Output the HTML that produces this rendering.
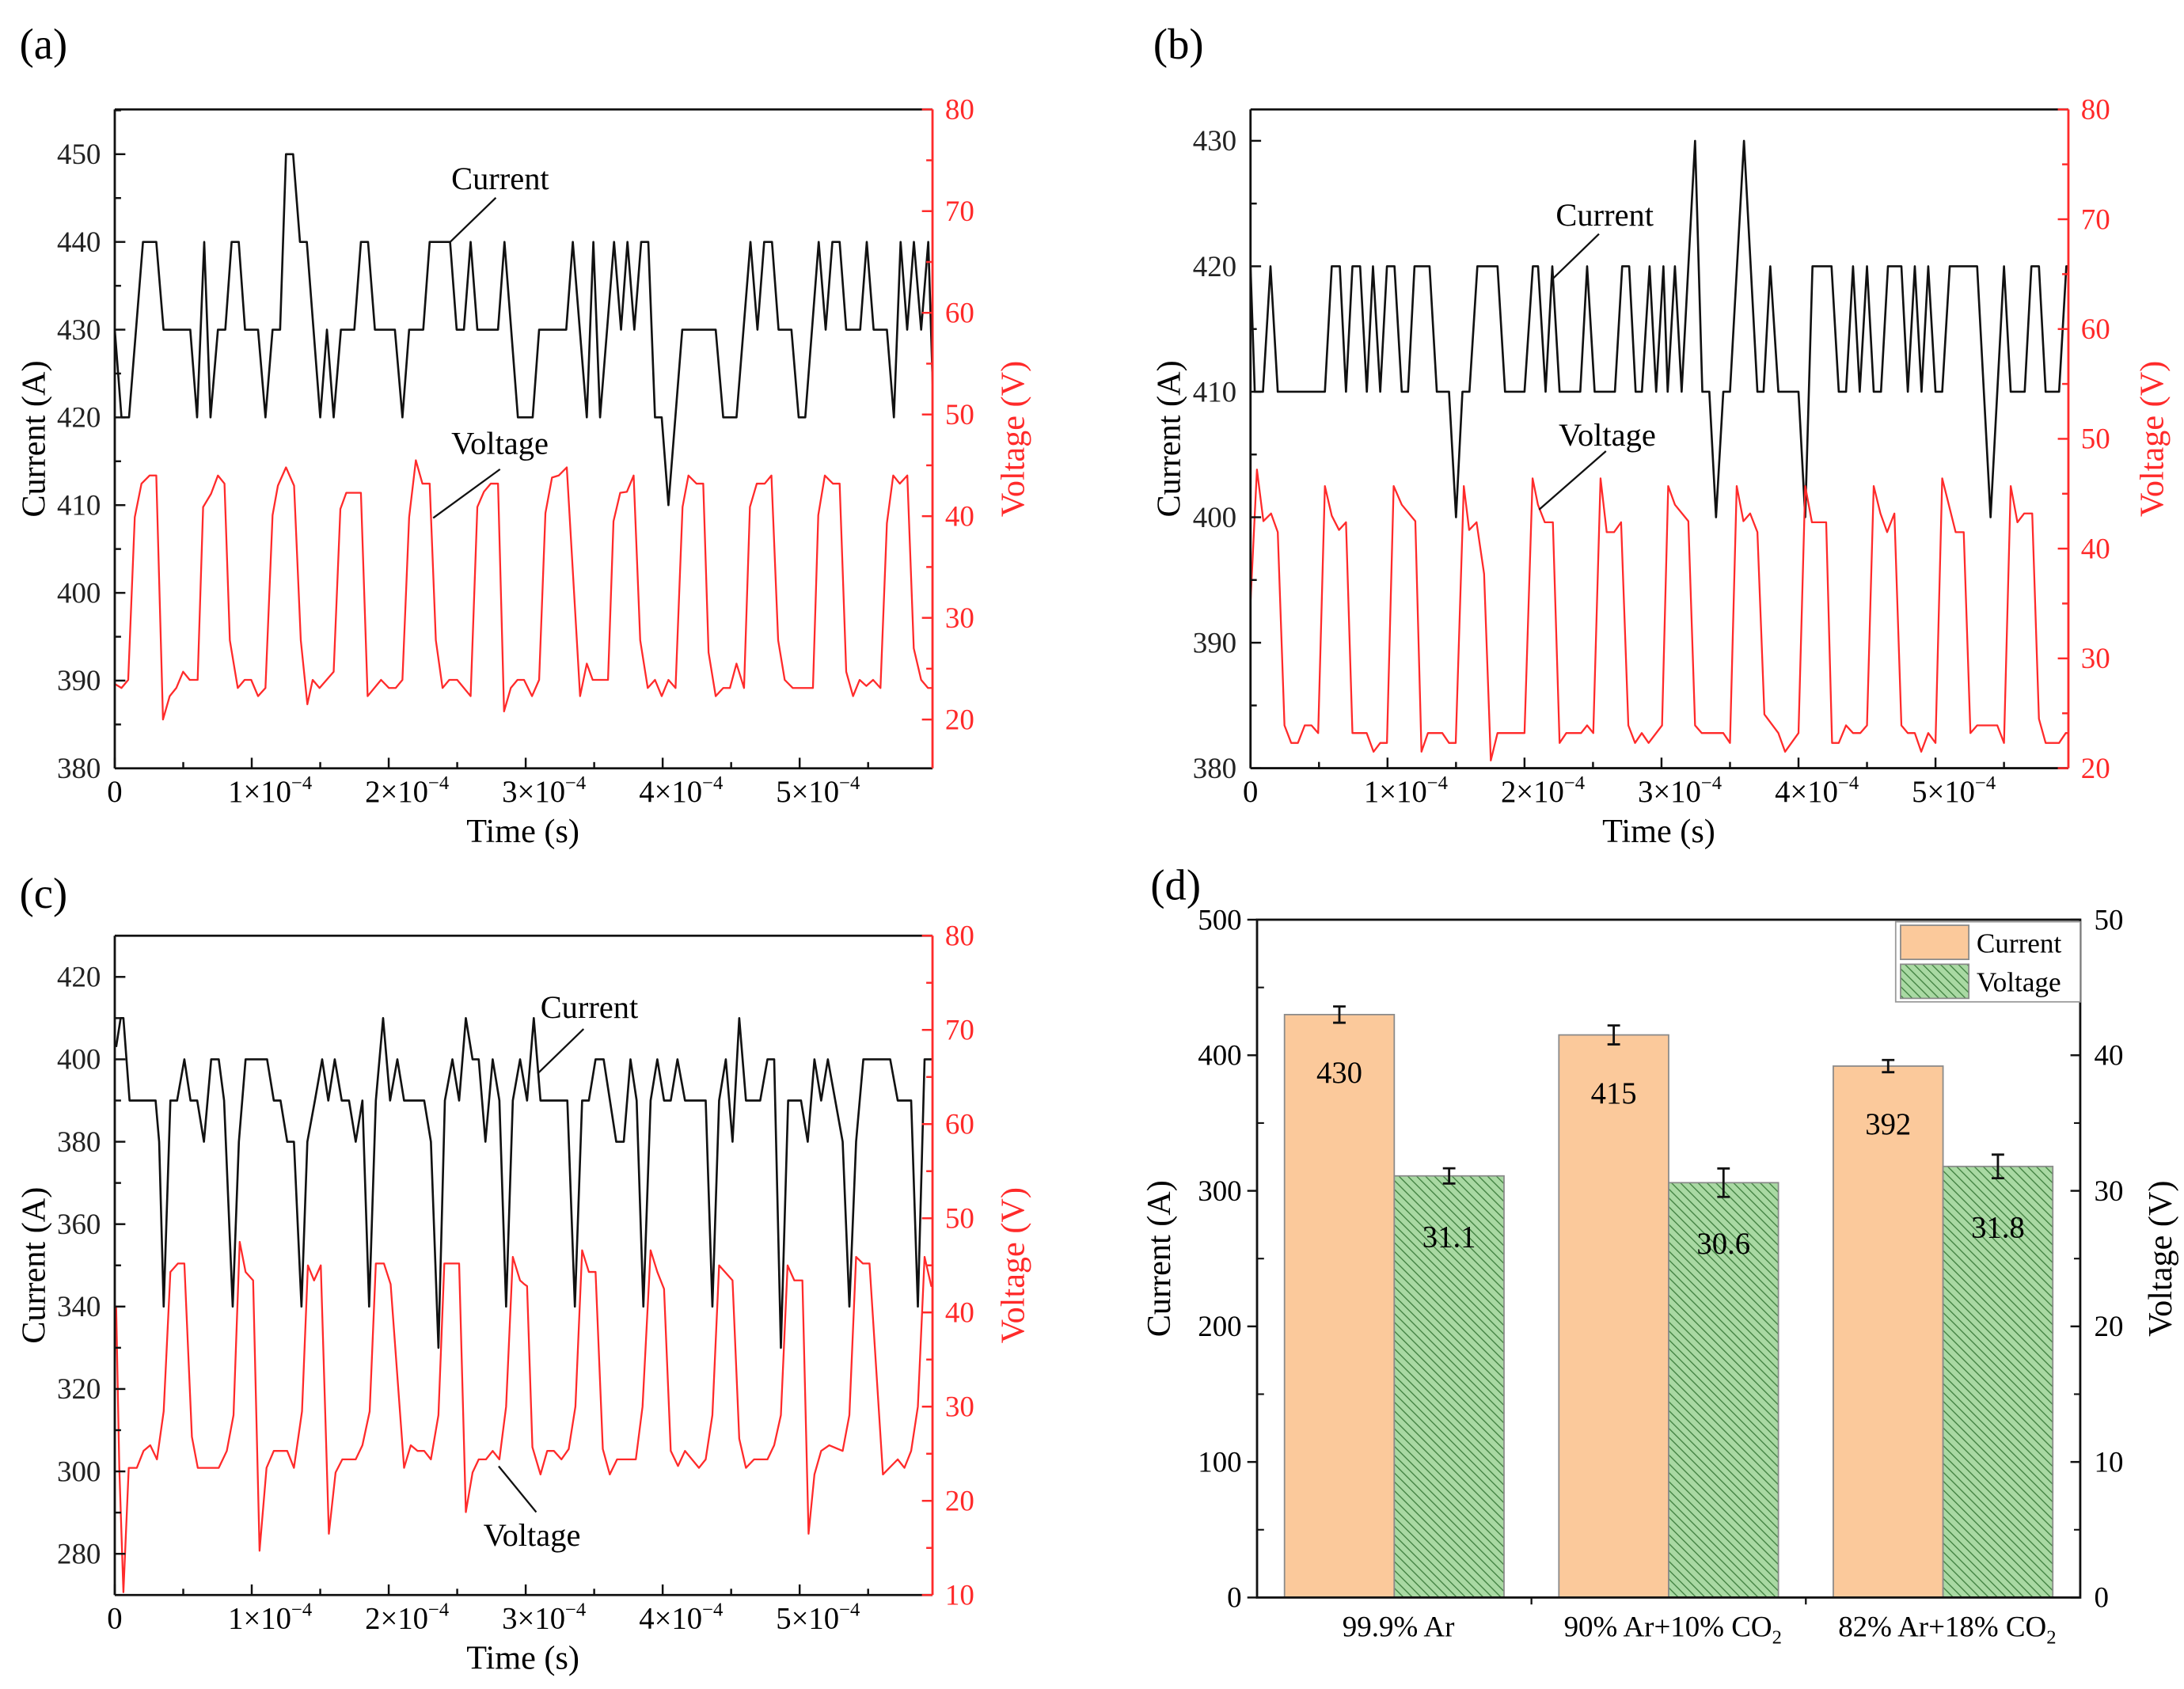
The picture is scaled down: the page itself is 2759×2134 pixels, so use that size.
<!DOCTYPE html>
<html><head><meta charset="utf-8"><title>Current and voltage waveforms</title>
<style>
html,body{margin:0;padding:0;background:#fff;}
svg{display:block;}
svg text{font-family:"Liberation Serif","DejaVu Serif",serif;}
</style></head>
<body>
<svg id="fig" xmlns="http://www.w3.org/2000/svg" width="2759" height="2134" viewBox="0 0 1568 1213" preserveAspectRatio="none" font-family="'Liberation Serif', 'DejaVu Serif', serif">
<defs>
<pattern id="hatch" patternUnits="userSpaceOnUse" width="4.5" height="4.5" patternTransform="rotate(-45)">
<rect width="4.5" height="4.5" fill="#a9d9a3"/>
<line x1="0" y1="0" x2="0" y2="4.5" stroke="#3f7f3f" stroke-width="1.5"/>
</pattern>
<clipPath id="clipA"><rect x="82.4" y="78.6" width="587.1" height="473.2"/></clipPath>
<clipPath id="clipB"><rect x="897.8" y="78.6" width="587.2" height="473.1"/></clipPath>
<clipPath id="clipC"><rect x="82.4" y="672" width="587.1" height="473.5"/></clipPath>
</defs>
</svg>
<script>
// ---------- Panel (a) data (time in microseconds) ----------
const aCurT=[0,4.9,10.4,20.6,30.3,35.6,55.1,60.1,65.3,69.9,75.3,80.7,85.3,90.5,95.1,104.6,110.0,115.2,120.7,125.0,130.2,135.2,140.2,150.0,154.9,159.8,165.1,174.9,179.7,184.9,189.9,204.5,210.0,214.9,225.2,229.9,244.8,249.6,254.9,259.8,264.7,279.8,284.5,294.3,305.1,309.8,329.6,334.4,344.6,349.4,354.3,364.5,369.6,374.3,379.3,384.3,389.5,394.4,399.3,404.2,414.3,438.7,444.2,453.9,464.1,469.2,474.1,479.8,484.6,494.0,499.3,504.1,513.9,519.0,523.9,529.2,534.0,544.2,549.0,554.0,563.7,568.8,573.7,578.5,583.4,588.7,593.9,597.9];
const aCurI=[430,420,420,440,440,430,430,420,440,420,430,430,440,440,430,430,420,430,430,450,450,440,440,420,430,420,430,430,440,440,430,430,420,430,430,440,440,430,430,440,430,430,440,420,420,430,430,440,420,440,420,440,430,440,430,440,440,420,420,410,430,430,420,420,440,430,440,440,430,430,420,420,440,430,440,440,430,430,440,430,430,420,440,430,440,430,440,420];
const aVolT=[0,4.9,9.8,14.6,19.5,25.4,30.3,35.2,40.1,44.9,49.9,54.7,60.5,64.5,70.3,75.3,80.1,84.0,89.8,94.8,99.6,104.6,110.0,115.2,119.1,125.0,130.9,135.8,140.6,144.5,149.5,159.8,164.7,169.0,179.7,184.6,194.4,200.2,205.1,210.0,214.9,219.8,224.6,229.9,234.4,239.3,244.2,250.0,259.8,264.7,269.5,274.5,279.8,284.2,289.1,294.0,298.8,304.6,309.8,314.4,319.2,324.1,330.0,339.7,344.6,348.9,360.1,364.1,369.0,373.9,378.8,383.6,389.1,394.4,399.3,404.2,409.4,414.5,418.8,424.7,429.6,433.5,438.7,444.2,449.1,453.9,459.4,463.7,468.7,474.5,479.4,484.3,489.1,495.0,509.7,513.6,518.4,524.3,529.2,534.0,539.0,543.8,548.7,553.6,559.0,563.7,568.3,573.1,578.6,583.3,588.7,593.7,597.9];
const aVolU=[23.5,23.1,23.9,39.9,43.2,44.0,44.0,20.0,22.3,23.1,24.7,23.9,23.9,40.9,42.2,44.0,43.2,27.8,23.1,23.9,23.9,22.3,23.1,40.1,43.0,44.8,43.0,27.8,21.5,23.9,23.1,24.7,40.7,42.3,42.3,22.3,23.9,23.1,23.1,23.9,39.9,45.5,43.2,43.2,27.8,23.1,23.9,23.9,22.3,40.9,42.4,43.2,43.2,20.8,23.1,23.9,23.9,22.3,23.9,40.3,43.8,44.0,44.8,22.3,25.5,23.9,23.9,39.5,42.3,42.4,44.0,27.8,23.1,23.9,22.3,23.9,23.1,40.9,44.0,43.2,43.2,26.6,22.3,23.1,23.1,25.5,23.1,40.9,43.2,43.2,44.0,27.8,23.9,23.1,23.1,40.1,44.0,43.2,43.2,24.7,22.3,23.9,23.3,23.9,23.1,39.3,44.0,43.2,44.0,27.0,23.9,23.1,23.1];
// ---------- Panel (b) data ----------
const bCurT=[0,3.1,9.1,14.6,19.9,54.3,59.3,65.2,69.7,74.4,80.0,84.9,89.4,94.7,99.6,105.1,110.4,115.0,119.7,130.7,136.0,144.9,150.0,154.7,159.8,165.6,180.3,185.8,200.0,206.1,209.9,215.4,220.3,225.6,240.7,245.7,251.2,266.0,271.3,276.4,281.1,285.7,291.3,296.1,301.4,304.5,309.8,314.7,324.5,329.8,334.9,339.8,345.1,350,360.2,370,374.5,379.4,385.3,400,404.9,410.2,424.1,429.4,434.7,439.8,444.7,450,454.9,460.2,465.3,475.1,479.8,484.9,489.8,494.7,500,504.9,510.4,530.4,540.2,550,554.9,565.1,570,575.5,580.4,590.2,595.5,599];
const bCurI=[420,410,410,420,410,410,420,420,410,420,420,410,420,410,420,420,410,410,420,420,410,410,400,410,410,420,420,410,410,420,420,410,420,410,410,420,410,410,420,420,410,410,420,410,420,410,420,410,430,410,410,400,410,410,430,410,410,420,410,410,400,420,420,410,410,420,410,420,410,410,420,420,410,420,410,420,410,410,420,420,400,420,410,410,420,420,410,410,420,420];
const bVolT=[0,4.7,9.4,15,19.9,24.8,29.7,34.6,39.6,44.5,49.4,54.3,59.3,64.6,69.7,74.4,84.8,89.8,94.7,99.6,104.5,110.4,120.3,124.8,129.5,140,144.9,149.8,155.7,159.6,165,170.5,175.4,180.3,200,205.9,209.8,214.8,220.7,225.6,230.5,241.3,245.7,250.2,255.5,260,265.4,270.5,275.8,280.7,285.6,290.6,300.4,304.9,309.8,319.6,324.5,329.4,345.1,350,354.9,359.8,364.7,370,375.1,385.3,390.2,400,404.9,409.8,420.2,424.5,429.4,434.7,439.8,445.1,450,454.9,459.8,464.7,470,475.1,479.8,484.9,489.6,494.7,500,504.9,514.7,520.6,525.5,530.4,545.1,550,554.9,559.8,564.7,570.6,575.5,580.4,590.2,595.1,599];
const bVolU=[35.1,47.2,42.5,43.2,41.5,23.9,22.3,22.3,23.9,23.9,23.2,45.7,43.0,41.7,42.4,23.2,23.2,21.5,22.3,22.3,45.7,44.0,42.5,21.5,23.2,23.2,22.3,22.3,45.7,41.7,42.4,37.7,20.7,23.2,23.2,46.4,44.0,42.4,42.4,22.3,23.2,23.2,23.9,23.2,46.4,41.5,41.5,42.4,23.9,22.3,23.2,22.3,23.9,45.7,44.0,42.5,23.9,23.2,23.2,22.3,45.7,42.5,43.2,41.5,24.9,23.2,21.5,23.2,45.7,42.4,42.4,22.3,22.3,23.9,23.2,23.2,23.9,45.7,43.2,41.5,43.2,23.9,23.2,23.2,21.5,23.2,22.3,46.4,41.5,41.5,23.2,23.9,23.9,22.3,45.7,42.4,43.2,43.2,24.5,22.3,22.3,23.2,23.2];
// ---------- Panel (c) data ----------
const cCurT=[1.0,4.3,6.3,10.8,29.8,32.4,35.7,40.6,45.5,50.8,55.3,60.2,65.1,70.4,75.9,79.8,86.1,90.6,95.5,111.2,116.1,121.0,125.9,130.8,136.3,140.6,146.1,151.4,155.9,160.6,165.7,171.0,175.9,180.8,185.7,190.6,195.9,201.0,206.3,211.2,225.9,230.8,236.3,241.0,246.5,251.4,256.3,261.2,265.7,270.6,275.9,280.8,285.7,290.6,295.9,301.0,305.9,310.8,330.4,335.9,341.2,346.1,351.0,356.9,366.1,371.6,376.5,381.0,385.9,391.2,396.1,401.0,405.9,410.8,416.3,431.4,436.3,441.2,446.1,451.0,455.9,460.8,471.2,476.5,481.4,486.3,491.6,501.0,505.9,510.8,515.7,520.6,531.4,536.3,541.2,546.5,566.1,571.6,581.4,586.3,591.2,600];
const cCurI=[403,410,410,390,390,380,340,390,390,400,390,390,380,400,400,390,340,380,400,400,390,390,380,380,340,380,390,400,390,400,390,390,380,390,340,390,410,390,400,390,390,380,330,390,400,390,410,400,400,380,400,390,340,390,400,390,410,390,390,340,390,390,400,400,380,380,400,390,340,390,400,390,390,400,390,390,340,390,400,380,410,390,390,400,400,330,390,390,380,400,390,400,380,340,380,400,400,390,390,340,400,400];
const cVolT=[1.0,3.3,6.3,10.2,16.1,21.0,25.9,30.8,35.7,40.6,46.1,50.8,56.3,60.6,75.9,81.8,86.7,91.2,95.5,101.0,105.7,110.8,116.1,125.9,130.8,136.7,141.0,145.5,150.4,156.3,161.2,166.1,175.9,180.8,186.1,190.6,196.5,201.4,211.2,216.1,221.0,225.9,230.8,236.3,240.6,251.4,256.3,261.2,265.7,271.0,275.9,280.8,285.7,290.6,295.9,299,301,304.9,310.8,315.7,320.6,326.1,331.4,336.3,341.2,346.1,351,356.3,361.4,366.7,380.4,385.3,391.2,396.1,401,405.9,411.2,416.3,426.5,431.4,436.3,441.2,451,455.9,460.8,466.7,476.5,481.4,486.3,491.2,496.1,502,506.5,510.8,515.7,521.6,531.4,536.3,541.2,546.1,551,560.8,571.6,576.5,581.4,586.3,591.2,596.1,600];
const cVolU=[40.7,23.5,10.3,23.5,23.5,25.3,25.9,24.4,29.5,44.3,45.2,45.2,26.8,23.5,23.5,25.3,29.1,47.5,44.3,43.4,14.7,23.5,25.3,25.3,23.5,29.5,45.0,43.4,45.0,16.5,23.0,24.4,24.4,25.9,29.5,45.2,45.2,43.0,23.5,25.9,25.3,25.3,24.4,29.1,45.2,45.2,18.8,23.0,24.4,24.4,25.3,24.4,30.0,45.9,43.4,43.0,42.8,25.7,22.8,25.3,25.3,24.4,25.5,30.0,46.6,44.3,44.3,25.5,22.8,24.4,24.4,30.0,46.6,44.3,42.5,25.3,23.7,25.3,23.5,24.4,29.1,45.0,43.4,26.6,23.5,24.4,24.4,25.9,29.1,45.0,43.4,43.4,16.5,22.8,25.3,25.9,25.3,29.1,45.9,45.2,45.2,22.8,24.4,23.5,25.3,30.0,45.9,42.8,43.2];
// ---------- Panel (d) data ----------
const dCategories=['99.9% Ar','90% Ar+10% CO2','82% Ar+18% CO2'];
const dCurrent=[430,415,392];
const dCurrentErr=[6,7,4.5];
const dVoltage=[31.1,30.6,31.8];
const dVoltageErr=[0.56,1.05,0.87];
const dCurrentTicks=[0,100,200,300,400,500];
const dVoltageTicks=[0,10,20,30,40,50];

const svg=document.getElementById('fig');
const NS='http://www.w3.org/2000/svg';
const FONT="'Liberation Serif', 'DejaVu Serif', serif";
function mk(tag,attrs,parent){const e=document.createElementNS(NS,tag);for(const k in attrs)e.setAttribute(k,attrs[k]);if(tag==='text')e.setAttribute('font-family',FONT);(parent||svg).appendChild(e);return e;}
const RED='#ff2a2a';

function linePanel(p){
  const g=mk('g',{});
  
  
  const sx=t=>p.x0+(t-0)/p.tMax*(p.x1-p.x0);
  const sc=v=>p.yBot-(v-p.cMin)/(p.cMax-p.cMin)*(p.yBot-p.yTop);
  const sv=v=>p.yBot-(v-p.vMin)/(p.vMax-p.vMin)*(p.yBot-p.yTop);
  const tg=mk('g',{'clip-path':'url(#'+p.clip+')'},g);
  let d='';p.curT.forEach((t,i)=>{d+=(i?'L':'M')+sx(t).toFixed(2)+' '+sc(p.curI[i]).toFixed(2);});
  const cl=mk('path',{d:d,fill:'none',stroke:'#111','stroke-width':1.5,'stroke-linejoin':'round'},tg);
  
  
  d='';p.volT.forEach((t,i)=>{d+=(i?'L':'M')+sx(t).toFixed(2)+' '+sv(p.volU[i]).toFixed(2);});
  const vl=mk('path',{d:d,fill:'none',stroke:RED,'stroke-width':1.3,'stroke-linejoin':'round'},tg);
  
  
  mk('line',{x1:p.x0,y1:p.yTop,x2:p.x1,y2:p.yTop,stroke:'#111','stroke-width':1.6},g);
  mk('line',{x1:p.x0,y1:p.yBot,x2:p.x1,y2:p.yBot,stroke:'#111','stroke-width':1.6},g);
  const la=mk('line',{x1:p.x0,y1:p.yTop,x2:p.x0,y2:p.yBot,stroke:'#111','stroke-width':1.6},g);
  
  
  const ra=mk('line',{x1:p.x1,y1:p.yTop,x2:p.x1,y2:p.yBot,stroke:RED,'stroke-width':1.6},g);
  
  
  for(let t=0;t<=p.tMax;t+=50){
    const major=(t%100===0);const x=sx(t);
    mk('line',{x1:x,y1:p.yBot,x2:x,y2:p.yBot-(major?7.6:4.5),stroke:'#111','stroke-width':1.4},g);
    if(major){
      let lab;
      if(t===0){lab=mk('text',{x:x,y:p.yBot+24,'font-size':22,'text-anchor':'middle'},g);lab.textContent='0';}
      else{lab=mk('text',{x:x-17,y:p.yBot+24,'font-size':22},g);lab.textContent=(t/100)+'×10';
        const s=mk('tspan',{dy:-9,'font-size':14},lab);s.textContent='−4';}
      
      
    }
  }
  const xt=mk('text',{x:(p.x0+p.x1)/2-0.5,y:p.yBot+53,'font-size':24,'text-anchor':'middle'},g);
  xt.textContent='Time (s)';
  
  
  for(let v=p.cMinorStart;v<=p.cMax;v+=p.cMinor){
    const major=((v-p.cMajorStart)%p.cMajor===0)&&v>=p.cMajorStart;const y=sc(v);
    mk('line',{x1:p.x0,y1:y,x2:p.x0+(major?7.6:4.5),y2:y,stroke:'#111','stroke-width':1.4},g);
    if(major){const l=mk('text',{x:p.x0-10,y:y+7,'font-size':21,'text-anchor':'end',fill:'#222'},g);l.textContent=v;
      
      }
  }
  for(let v=p.vMinorStart;v<=p.vMax;v+=5){
    const major=(v%10===0);const y=sv(v);
    mk('line',{x1:p.x1,y1:y,x2:p.x1-(major?7.6:4.5),y2:y,stroke:RED,'stroke-width':1.4},g);
    if(major){const l=mk('text',{x:p.x1+9,y:y+7,'font-size':21,fill:RED},g);l.textContent=v;
      
      }
  }
  const cy=(p.yTop+p.yBot)/2;
  const yt=mk('text',{x:0,y:0,'font-size':24,'text-anchor':'middle',transform:'translate('+p.ctX+','+cy+') rotate(-90)'},g);
  yt.textContent='Current (A)';
  
  
  const vt=mk('text',{x:0,y:0,'font-size':24,'text-anchor':'middle',fill:RED,transform:'translate('+p.vtX+','+cy+') rotate(-90)'},g);
  vt.textContent='Voltage (V)';
  
  
  const ac=mk('text',{x:p.annC[0],y:p.annC[1],'font-size':23},g);ac.textContent='Current';
  
  
  mk('line',{x1:p.annC[2],y1:p.annC[3],x2:p.annC[4],y2:p.annC[5],stroke:'#111','stroke-width':1.3},g);
  const av=mk('text',{x:p.annV[0],y:p.annV[1],'font-size':23},g);av.textContent='Voltage';
  
  
  mk('line',{x1:p.annV[2],y1:p.annV[3],x2:p.annV[4],y2:p.annV[5],stroke:'#111','stroke-width':1.3},g);
  const pl=mk('text',{x:p.lab[0],y:p.lab[1],'font-size':31},g);pl.textContent=p.label;
  
  
}

linePanel({name:'panel-a',clip:'clipA',x0:82.4,x1:669.5,yTop:78.6,yBot:551.8,tMax:597,
  cMin:380,cMax:455.1,cMajor:10,cMajorStart:380,cMinor:5,cMinorStart:380,vMin:15.2,vMax:80,vMinorStart:20,
  curT:aCurT,curI:aCurI,volT:aVolT,volU:aVolU,ctX:32,vtX:735,
  annC:[324,136,356,142,323,174],annV:[324,326,359,337,311,372],lab:[14,42],label:'(a)'});
linePanel({name:'panel-b',clip:'clipB',x0:897.8,x1:1485,yTop:78.6,yBot:551.7,tMax:597,
  cMin:380,cMax:432.5,cMajor:10,cMajorStart:380,cMinor:5,cMinorStart:380,vMin:20,vMax:80,vMinorStart:20,
  curT:bCurT,curI:bCurI,volT:bVolT,volU:bVolU,ctX:847,vtX:1553,
  annC:[1117,162,1148,168,1114,201],annV:[1119,320,1153,324,1105,366],lab:[828,42],label:'(b)'});
linePanel({name:'panel-c',clip:'clipC',x0:82.4,x1:669.5,yTop:672,yBot:1145.5,tMax:597,
  cMin:270,cMax:430,cMajor:20,cMajorStart:280,cMinor:10,cMinorStart:270,vMin:10,vMax:80,vMinorStart:10,
  curT:cCurT,curI:cCurI,volT:cVolT,volU:cVolU,ctX:32,vtX:735,
  annC:[388,731,419,739,386,771],annV:[347,1110,358,1053,385,1086],lab:[14,652],label:'(c)'});

// ---------- Panel (d) bar chart ----------
(function(){
  const x0=902.5,x1=1493.5,yT=660.5,yB=1147.3,cMax=500,vMax=50;
  const g=mk('g',{});
  
  
  const band=(x1-x0)/dCategories.length;
  const bw=78.8;
  const yc=v=>yB-v/cMax*(yB-yT);
  const yv=v=>yB-v/vMax*(yB-yT);
  dCategories.forEach((c,i)=>{
    const cx=x0+band*(i+0.5);
    const cb=mk('rect',{x:cx-bw,y:yc(dCurrent[i]),width:bw,height:yB-yc(dCurrent[i]),fill:'#fbc99b',stroke:'#8a8a8a','stroke-width':1},g);
    
    
    const vb=mk('rect',{x:cx,y:yv(dVoltage[i]),width:bw,height:yB-yv(dVoltage[i]),fill:'url(#hatch)',stroke:'#8a8a8a','stroke-width':1},g);
    
    
    [[cx-bw/2,yc(dCurrent[i]+dCurrentErr[i]),yc(dCurrent[i]-dCurrentErr[i])],[cx+bw/2,yv(dVoltage[i]+dVoltageErr[i]),yv(dVoltage[i]-dVoltageErr[i])]].forEach(e=>{
      const eb=mk('path',{d:'M'+e[0]+' '+e[1]+'V'+e[2]+'M'+(e[0]-4.5)+' '+e[1]+'H'+(e[0]+4.5)+'M'+(e[0]-4.5)+' '+e[2]+'H'+(e[0]+4.5),stroke:'#111','stroke-width':1.6,fill:'none'},g);
      
      
    });
    const lc=mk('text',{x:cx-bw/2,y:yc(dCurrent[i])+49,'font-size':22,'text-anchor':'middle'},g);lc.textContent=dCurrent[i];
    
    
    const lv=mk('text',{x:cx+bw/2,y:yv(dVoltage[i])+51,'font-size':22,'text-anchor':'middle'},g);lv.textContent=dVoltage[i].toFixed(1);
    
    
    const xl=mk('text',{x:cx+3,y:yB+28,'font-size':21,'text-anchor':'middle'},g);
    const parts=c.split('CO2');
    xl.appendChild(document.createTextNode(parts[0]));
    if(parts.length>1){xl.appendChild(document.createTextNode('CO'));const s=mk('tspan',{dy:5,'font-size':14},xl);s.textContent='2';}
    
    
    if(i>0) mk('line',{x1:x0+band*i,y1:yB,x2:x0+band*i,y2:yB+5,stroke:'#111','stroke-width':1.3},g);
  });
  mk('rect',{x:x0,y:yT,width:x1-x0,height:yB-yT,fill:'none',stroke:'#111','stroke-width':1.6},g);
  dCurrentTicks.forEach(v=>{
    mk('line',{x1:x0,y1:yc(v),x2:x0-7,y2:yc(v),stroke:'#111','stroke-width':1.4},g);
    if(v+50<cMax) mk('line',{x1:x0,y1:yc(v+50),x2:x0+5,y2:yc(v+50),stroke:'#111','stroke-width':1.2},g);
    const l=mk('text',{x:x0-11,y:yc(v)+7,'font-size':21,'text-anchor':'end'},g);l.textContent=v;
    
    
  });
  dVoltageTicks.forEach(v=>{
    mk('line',{x1:x1,y1:yv(v),x2:x1-7,y2:yv(v),stroke:'#111','stroke-width':1.4},g);
    if(v+5<vMax) mk('line',{x1:x1,y1:yv(v+5),x2:x1-4.5,y2:yv(v+5),stroke:'#111','stroke-width':1.2},g);
    const l=mk('text',{x:x1+10,y:yv(v)+7,'font-size':21},g);l.textContent=v;
    
    
  });
  const cy=(yT+yB)/2;
  const t1=mk('text',{x:0,y:0,'font-size':24,'text-anchor':'middle',transform:'translate(840,'+cy+') rotate(-90)'},g);t1.textContent='Current (A)';
  
  
  const t2=mk('text',{x:0,y:0,'font-size':24,'text-anchor':'middle',transform:'translate(1559,'+cy+') rotate(-90)'},g);t2.textContent='Voltage (V)';
  
  
  const lg=mk('g',{},g);
  
  
  mk('rect',{x:1361,y:662,width:132.5,height:57.5,fill:'#fff',stroke:'#999','stroke-width':1},lg);
  mk('rect',{x:1364.5,y:664.5,width:49,height:24.5,fill:'#fbc99b',stroke:'#8a8a8a','stroke-width':1},lg);
  mk('rect',{x:1364.5,y:692.5,width:49,height:24.5,fill:'url(#hatch)',stroke:'#8a8a8a','stroke-width':1},lg);
  const e1=mk('text',{x:1419,y:684,'font-size':20},lg);e1.textContent='Current';
  
  
  const e2=mk('text',{x:1419,y:712,'font-size':20},lg);e2.textContent='Voltage';
  
  
  const pl=mk('text',{x:826,y:646,'font-size':31},g);pl.textContent='(d)';
  
  
})();
</script>
</body></html>
